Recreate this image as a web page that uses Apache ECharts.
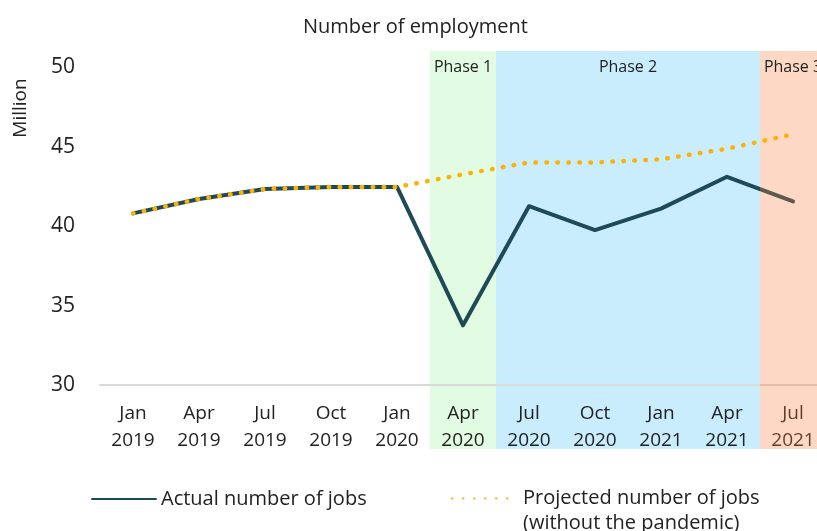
<!DOCTYPE html>
<html>
<head>
<meta charset="utf-8">
<title>Number of employment</title>
<script src="https://cdn.jsdelivr.net/npm/echarts@6/dist/echarts.min.js"></script>
<style>
  html, body { margin: 0; padding: 0; background: #fff; }
  #chart { width: 817px; height: 531px; }
</style>
</head>
<body>
<div id="chart"></div>
<script>
// data (million jobs)
const months = ['Jan\n2019', 'Apr\n2019', 'Jul\n2019', 'Oct\n2019', 'Jan\n2020', 'Apr\n2020',
                'Jul\n2020', 'Oct\n2020', 'Jan\n2021', 'Apr\n2021', 'Jul\n2021'];
const actualJobs = [40.8, 41.7, 42.33, 42.46, 42.46, 33.77, 41.25, 39.75, 41.1, 43.1, 41.55];
const projectedJobs = [40.8, 41.7, 42.33, 42.46, 42.46, 43.25, 44.0, 44.0, 44.2, 44.86, 45.77];
const yTicks = [30, 35, 40, 45, 50];
// phase name, first month, last month
const phases = [
  ['Phase 1', 'Apr\n2020', 'Apr\n2020'],
  ['Phase 2', 'Jul\n2020', 'Apr\n2021'],
  ['Phase 3', 'Jul\n2021', 'Jul\n2021']
];
const phaseColors = ['#e1fce2', '#c9edfc', 'rgba(247,128,64,0.3)'];

const FONT = '"Open Sans", sans-serif';
const chart = echarts.init(document.getElementById('chart'));

// band edges of a phase, on the hidden value x axis (category index +- 0.5)
function phaseArea(i) {
  const p = phases[i];
  return [
    { name: p[0], xAxis: months.indexOf(p[1]) - 0.5, itemStyle: { color: phaseColors[i] } },
    { xAxis: months.indexOf(p[2]) + 0.5 }
  ];
}
const phaseLabel = {
  show: true, position: 'insideTop', distance: 8,
  color: '#222', fontSize: 16, fontFamily: FONT
};

chart.setOption({
  animation: false,
  title: {
    text: 'Number of employment',
    left: 298, top: 12,
    textStyle: { color: '#222', fontSize: 20, fontWeight: 'normal', fontFamily: FONT }
  },
  grid: { left: 100, right: -9, top: 51, bottom: 82, outerBoundsMode: 'none' },
  legend: [
    {
      data: ['Actual number of jobs'],
      left: 86, top: 484,
      itemWidth: 64, itemHeight: 14,
      itemStyle: { opacity: 0 },
      textStyle: { color: '#222', fontSize: 20, fontFamily: FONT }
    },
    {
      data: ['Projected number of jobs'],
      // blank first line keeps the real first line level with the icon
      formatter: n => ' \n' + n + '\n(without the pandemic)',
      left: 446, top: 456,
      itemWidth: 66, itemHeight: 14,
      itemStyle: { opacity: 0 },
      textStyle: { color: '#222', fontSize: 20, lineHeight: 25, fontFamily: FONT }
    }
  ],
  graphic: [{
    type: 'text', x: 21, y: 108, rotation: Math.PI / 2,
    style: {
      text: 'Million', fill: '#222', font: '19px ' + FONT,
      align: 'center', verticalAlign: 'middle'
    }
  }],
  xAxis: [
    {
      type: 'category',
      data: months,
      offset: -64,
      z: 2,
      axisLine: { onZero: false, lineStyle: { color: '#d9d9d9', width: 2 } },
      axisTick: { show: false },
      axisLabel: {
        color: '#222', fontSize: 19, fontFamily: FONT,
        lineHeight: 27, margin: 15, interval: 0
      }
    },
    {
      type: 'value', show: false,
      min: -0.5, max: months.length - 0.5
    }
  ],
  yAxis: {
    type: 'value',
    min: 26, max: 51, interval: 1,
    axisLine: { show: false },
    axisTick: { show: false },
    splitLine: { show: false },
    axisLabel: {
      color: '#222', fontSize: 21, fontFamily: FONT, margin: 25,
      formatter: v => (yTicks.indexOf(v) >= 0 ? String(v) : '')
    }
  },
  series: [
    {
      name: 'phases',
      type: 'line',
      xAxisIndex: 1,
      data: [],
      markArea: {
        silent: true, z: 1,
        label: phaseLabel,
        data: [phaseArea(0), phaseArea(1)]
      }
    },
    {
      name: 'Actual number of jobs',
      type: 'line',
      z: 3,
      data: actualJobs,
      symbol: 'none',
      color: '#1e4a55',
      lineStyle: { color: '#1e4a55', width: 4, cap: 'round', join: 'round' }
    },
    {
      name: 'phase3',
      type: 'line',
      xAxisIndex: 1,
      data: [],
      markArea: {
        silent: true, z: 4,
        label: phaseLabel,
        data: [phaseArea(2)]
      }
    },
    {
      name: 'Projected number of jobs',
      type: 'line',
      z: 5,
      data: projectedJobs,
      symbol: 'none',
      color: '#ffb000',
      lineStyle: { color: '#ffb000', width: 4.5, type: [0.5, 10.5], cap: 'round' }
    }
  ]
});
</script>
</body>
</html>
